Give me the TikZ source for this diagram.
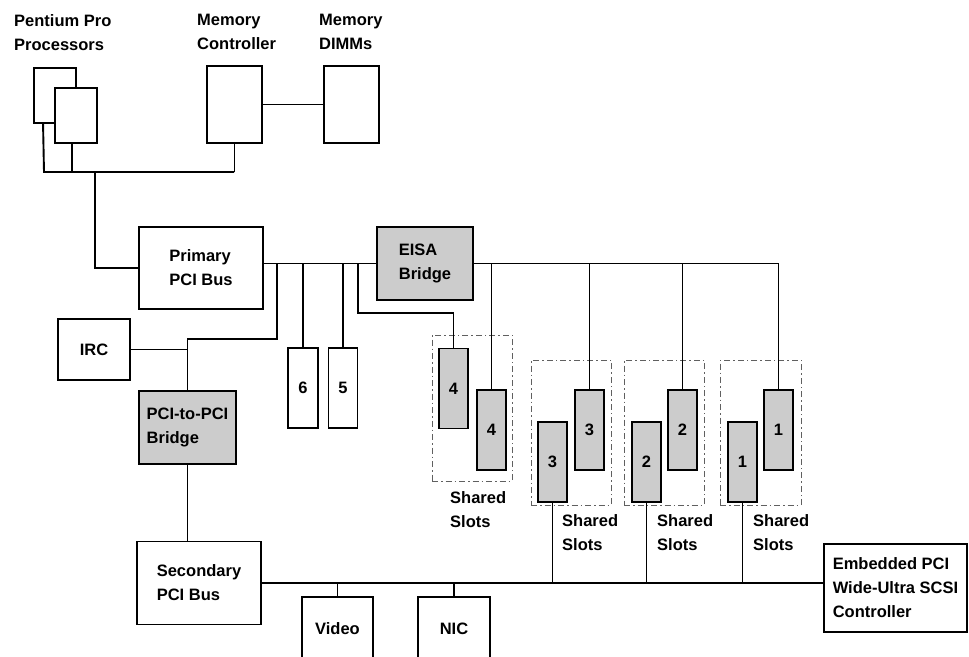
\documentclass[tikz,border=0pt]{standalone}
\usepackage{fontspec}
\setmainfont{Liberation Sans}
\usepackage{tikz}
\usetikzlibrary{positioning,calc}
\definecolor{slotgray}{HTML}{CCCCCC}
\definecolor{dashgray}{HTML}{606060}
\tikzset{
  box/.style={draw=black, fill=white, line width=1.9pt, align=left, inner sep=0pt, font=\fontsize{16.5}{24}\bfseries\selectfont},
  bridge/.style={box, fill=slotgray},
  slot/.style={bridge, minimum width=29pt, minimum height=80pt},
  plainslot/.style={slot, fill=white},
  grp/.style={draw=dashgray, line width=1pt, dash pattern=on 6pt off 3pt on 1.5pt off 3pt, minimum width=80pt, inner sep=0pt},
  lbl/.style={align=left, inner sep=0pt, anchor=north west, font=\fontsize{16.5}{24}\bfseries\selectfont},
  ln/.style={line width=1.9pt, black},
}
\begin{document}
\begin{tikzpicture}[x=1pt,y=-1pt]
        \clip (0,0) rectangle (969,656);
        \node[lbl] (ppLbl) at (14,14) {Pentium Pro\\Processors};
        \node[lbl] (mcLbl) at (197,14) {Memory\\Controller};
        \node[lbl] (dmLbl) at (319,14) {Memory\\DIMMs};
        \node[box, minimum width=42pt, minimum height=55pt] (procB) at (55,95.5) {};
        \node[box, minimum width=42pt, minimum height=55pt] (procA) at (76,115.5) {};
        \node[box, minimum width=55pt, minimum height=77pt] (memctl) at (234.5,104.5) {};
        \node[box, minimum width=55pt, minimum height=77pt] (dimms) at (351.5,104.5) {};
        \coordinate (hostL) at (44,172);
        \coordinate (hostR) at (234,172);
        \coordinate (hostM) at (95,172);
        \node[box, minimum width=124pt, minimum height=82pt] (primary) at (201,268) {Primary\\PCI Bus};
        \node[bridge, minimum width=96pt, minimum height=73pt] (eisa) at (425,263.5) {EISA\\Bridge};
        \node[box, minimum width=72pt, minimum height=61pt] (irc) at (94,349.5) {IRC};
        \node[bridge, minimum width=97pt, minimum height=73pt] (p2p) at (187.5,427.5) {PCI-to-PCI\\Bridge};
        \node[box, minimum width=124pt, minimum height=83pt] (secondary) at (199,583) {Secondary\\PCI Bus};
        \node[box, minimum width=143pt, minimum height=88pt] (scsi) at (895.5,588) {Embedded PCI\\Wide-Ultra SCSI\\Controller};
        \node[box, minimum width=71pt, minimum height=64pt] (video) at (337.5,629) {Video};
        \node[box, minimum width=72pt, minimum height=64pt] (nic) at (454,629) {NIC};
        \node[plainslot, minimum width=30pt] (s6) at (303,388) {6};
        \node[plainslot] (s5) at (343,388) {5};
        \node[grp, minimum height=146pt] (g4) at (472,408) {};
        \node[grp, minimum height=145pt] (g3) at (571,432.5) {};
        \node[grp, minimum height=145pt] (g2) at (664,432.5) {};
        \node[grp, minimum width=81pt, minimum height=145pt] (g1) at (760.5,432.5) {};
        \node[slot] (s4a) at (453.5,388.5) {4};
        \node[slot] (s4b) at (491.5,430) {4};
        \node[slot] (s3a) at (552.5,462) {3};
        \node[slot] (s3b) at (589.5,430) {3};
        \node[slot] (s2a) at (646.5,462) {2};
        \node[slot] (s2b) at (682.5,430) {2};
        \node[slot] (s1a) at (742.5,462) {1};
        \node[slot] (s1b) at (778.5,430) {1};
        \node[lbl] (sh4) at (450,491) {Shared\\Slots};
        \node[lbl] (sh3) at (562,514) {Shared\\Slots};
        \node[lbl] (sh2) at (657,514) {Shared\\Slots};
        \node[lbl] (sh1) at (753,514) {Shared\\Slots};
        \coordinate (tapP) at (277,263.5);
        \coordinate (tapE) at (358,263.5);
        \coordinate (p2pT) at (187.5,339);
        \draw[ln] ([xshift=10pt]procB.south west) -- (hostL) -- (hostR);
        \draw[ln] ([xshift=-4pt]procA.south) -- ([xshift=-4pt]procA.south |- hostL);
        \draw[ln] (memctl.south) -- (memctl.south |- hostR);
        \draw[ln] (memctl.east) -- (dimms.west);
        \draw[ln] (hostM) |- (primary.west);
        \draw[ln] (primary.east |- eisa.west) -- (eisa.west);
        \draw[ln] (eisa.east) -| (s1b.north);
        \foreach \s in {s4b,s3b,s2b}
          \draw[ln] (\s.north |- eisa.east) -- (\s.north);
        \draw[ln] (tapP) |- (p2pT) -- (p2p.north);
        \draw[ln] (irc.east) -- (irc.east -| p2p.north);
        \draw[ln] (s6.north |- tapP) -- (s6.north);
        \draw[ln] (s5.north |- tapP) -- (s5.north);
        \draw[ln] (tapE) |- ([yshift=35pt]s4a.north) -- (s4a.north);
        \draw[ln] (p2p.south) -- (p2p.south |- secondary.north);
        \draw[ln] (secondary.east) -- (secondary.east -| scsi.west);
        \foreach \s in {s3a,s2a,s1a}
          \draw[ln] (\s.south) -- (\s.south |- secondary.east);
        \draw[ln] (video.north |- secondary.east) -- (video.north);
        \draw[ln] (nic.north |- secondary.east) -- (nic.north);
      \end{tikzpicture}
\end{document}
